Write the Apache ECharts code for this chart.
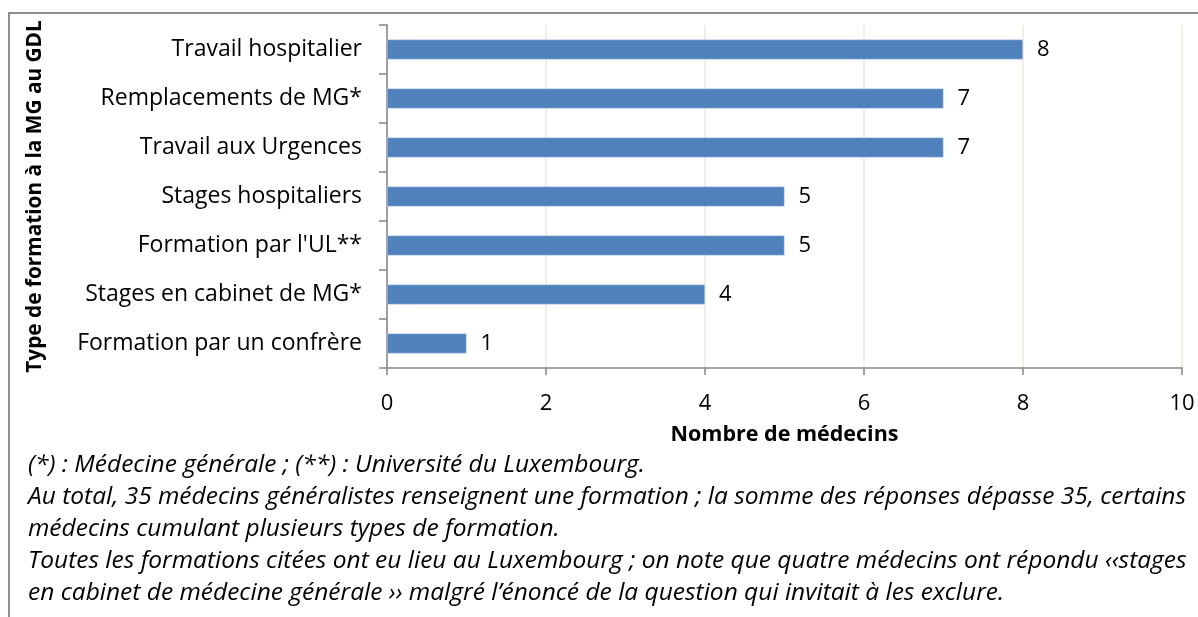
<!DOCTYPE html>
<html>
<head>
<meta charset="utf-8">
<script src="https://cdn.jsdelivr.net/npm/echarts@6/dist/echarts.min.js"></script>
<style>
  html, body { margin: 0; padding: 0; background: #fff; }
  #chart { width: 1198px; height: 617px; }
</style>
</head>
<body>
<div id="chart"></div>
<script>
const categories = [
  "Travail hospitalier",
  "Remplacements de MG*",
  "Travail aux Urgences",
  "Stages hospitaliers",
  "Formation par l'UL**",
  "Stages en cabinet de MG*",
  "Formation par un confrère"
];
const values = [8, 7, 7, 5, 5, 4, 1];
const xTicks = [0, 2, 4, 6, 8, 10];
const notes = [
  "(*) : Médecine générale ; (**) : Université du Luxembourg.",
  "Au total, 35 médecins généralistes renseignent une formation ; la somme des réponses dépasse 35, certains",
  "médecins cumulant plusieurs types de formation.",
  "Toutes les formations citées ont eu lieu au Luxembourg ; on note que quatre médecins ont répondu ‹‹stages",
  "en cabinet de médecine générale ›› malgré l’énoncé de la question qui invitait à les exclure."
];

const font = "Open Sans";
const chart = echarts.init(document.getElementById("chart"));

const options = {
  animation: false,
  textStyle: { fontFamily: font },
  grid: { left: 387, right: 16, top: 25, bottom: 249 },
  xAxis: {
    type: "value",
    min: xTicks[0],
    max: xTicks[xTicks.length - 1],
    interval: 2,
    name: "Nombre de médecins",
    nameLocation: "middle",
    nameGap: 56,
    nameTextStyle: { fontFamily: font, fontWeight: "bold", fontSize: 21.5, color: "#000" },
    axisLine: { show: true, lineStyle: { color: "#868686", width: 1.5 } },
    axisTick: { show: true, length: 7, lineStyle: { color: "#868686", width: 1.5 } },
    axisLabel: { margin: 25, fontSize: 22, color: "#000", fontFamily: font },
    splitLine: { show: true, lineStyle: { color: "#ebe8df", width: 1.5 } }
  },
  yAxis: {
    type: "category",
    data: categories,
    inverse: true,
    name: "Type de formation à la MG au GDL",
    nameLocation: "middle",
    nameRotate: 90,
    nameGap: 341,
    nameTextStyle: { fontFamily: font, fontWeight: "bold", fontSize: 20.8, color: "#000" },
    axisLine: { show: true, lineStyle: { color: "#868686", width: 1.5 } },
    axisTick: { show: true, length: 8, lineStyle: { color: "#868686", width: 1.5 } },
    axisLabel: { margin: 25, fontSize: 23, color: "#000", fontFamily: font },
    splitLine: { show: false }
  },
  series: [
    {
      type: "bar",
      data: values,
      barWidth: 20,
      itemStyle: { color: "#4f81bd", borderColor: "#c9d8ec", borderWidth: 0.5 },
      label: {
        show: true,
        position: "right",
        distance: 14,
        fontSize: 22,
        color: "#000",
        fontFamily: font
      }
    }
  ],
  graphic: [
    {
      type: "polyline",
      shape: { points: [[9, 617], [9, 13], [1198, 13]] },
      style: { stroke: "#8e8e8e", lineWidth: 2, fill: null }
    },
    {
      type: "text",
      left: 28,
      top: 449,
      style: {
        text: notes.join("\n"),
        font: "italic 24.5px '" + font + "'",
        lineHeight: 32,
        fill: "#000"
      }
    }
  ]
};

chart.setOption(options);
</script>
</body>
</html>
